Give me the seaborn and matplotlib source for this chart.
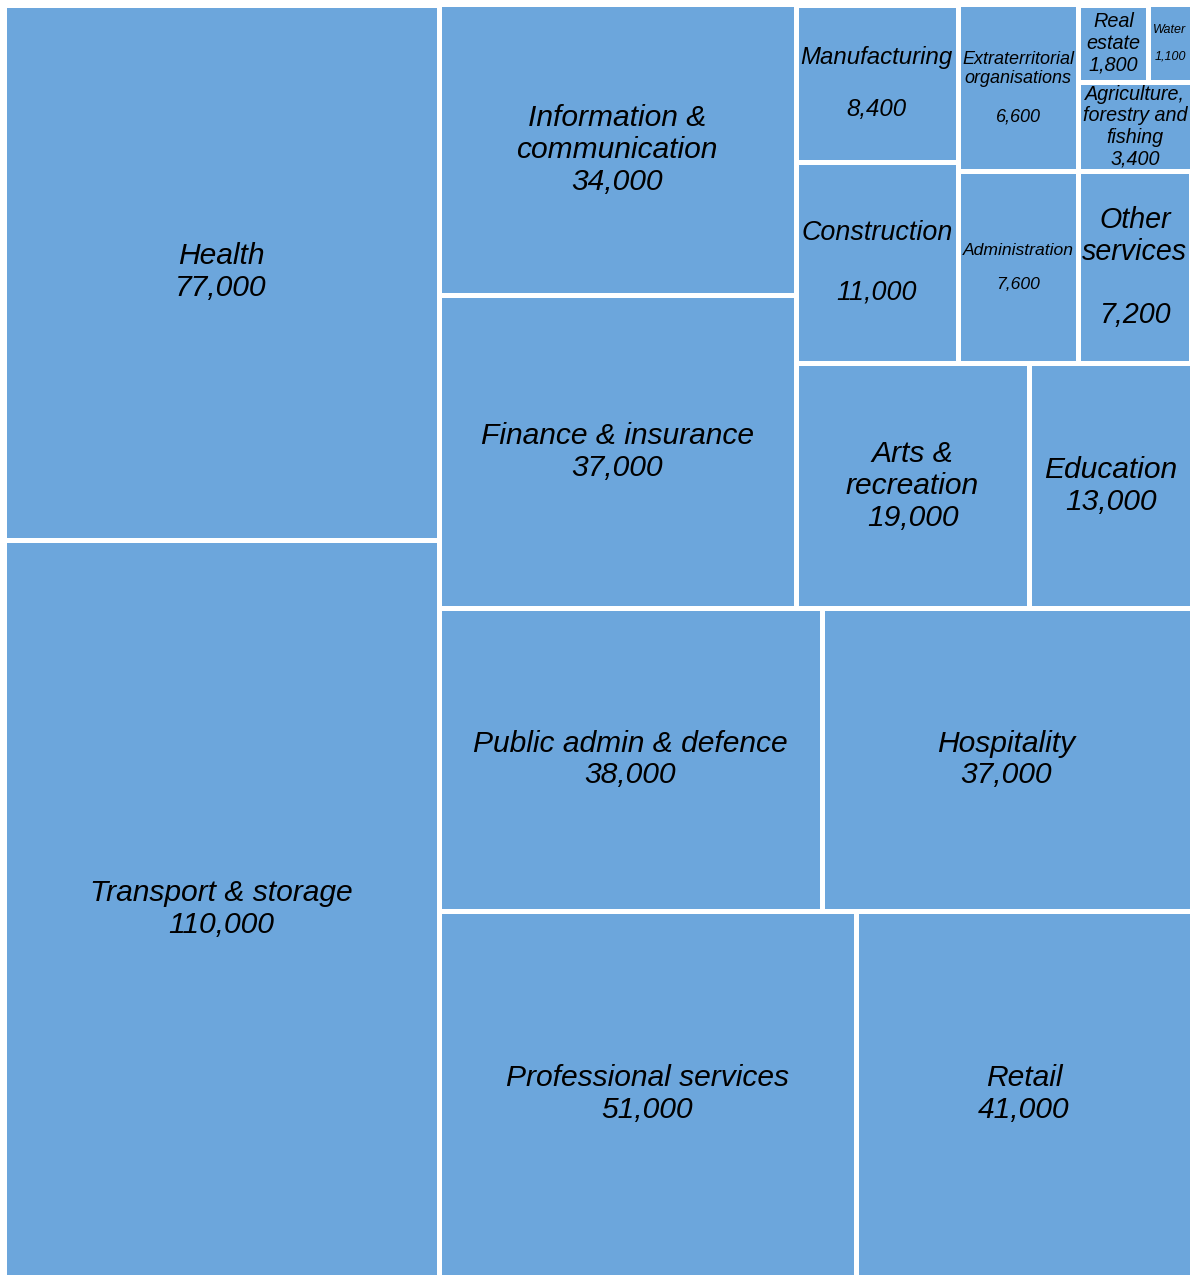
import matplotlib
matplotlib.use("Agg")
import matplotlib.pyplot as plt
from matplotlib.patches import Rectangle
import seaborn as sns

# employees by industry, in layout order (largest first).
# box areas give the value, labels show it rounded to 2 significant figures
industries = [
    "Transport & storage", "Health", "Professional services", "Retail",
    "Public admin & defence", "Hospitality", "Finance & insurance",
    "Information &\ncommunication", "Arts &\nrecreation", "Education",
    "Construction", "Manufacturing", "Administration", "Other\nservices",
    "Extraterritorial\norganisations", "Agriculture,\nforestry and\nfishing",
    "Real\nestate", "Water",
]
employees = [
    106000, 77000, 50600, 40600,
    38300, 37000, 36900,
    34300, 18900, 13100,
    10800, 8430, 7640, 7180,
    6640, 3360,
    1790, 1100,
]

# label styling per box
font_sizes = [21.6, 21.6, 21.6, 21.6, 21.6, 21.6, 21.6, 21.6, 21.6, 21.6,
              19.4, 17.3, 12.6, 20.6, 13, 14.2, 14.3, 9]
blank_lines = [1, 1, 1, 1, 1, 1, 1, 1, 1, 1, 2, 2, 2, 2, 2, 1, 1, 2]

BOX_COLOR = "#6ca6dc"


def two_sig(v):
    return f"{int(float(f'{v:.2g}')):,}"


# squarified treemap layout
def normalize(sizes, dx, dy):
    total = sum(sizes)
    return [s * dx * dy / total for s in sizes]


def layout_row(sizes, x, y, dx, dy):
    width = sum(sizes) / dy
    rects = []
    for s in sizes:
        rects.append((x, y, width, s / width))
        y += s / width
    return rects


def layout_col(sizes, x, y, dx, dy):
    height = sum(sizes) / dx
    rects = []
    for s in sizes:
        rects.append((x, y, s / height, height))
        x += s / height
    return rects


def layout(sizes, x, y, dx, dy):
    if dx >= dy:
        return layout_row(sizes, x, y, dx, dy)
    return layout_col(sizes, x, y, dx, dy)


def leftover(sizes, x, y, dx, dy):
    if dx >= dy:
        width = sum(sizes) / dy
        return x + width, y, dx - width, dy
    height = sum(sizes) / dx
    return x, y + height, dx, dy - height


def worst_ratio(sizes, x, y, dx, dy):
    return max(max(w / h, h / w) for (_, _, w, h) in layout(sizes, x, y, dx, dy))


def squarify(sizes, x, y, dx, dy):
    if len(sizes) == 0:
        return []
    if len(sizes) == 1:
        return layout(sizes, x, y, dx, dy)
    i = 1
    while i < len(sizes) and worst_ratio(sizes[:i], x, y, dx, dy) >= worst_ratio(sizes[:i + 1], x, y, dx, dy):
        i += 1
    cur, rest = sizes[:i], sizes[i:]
    lx, ly, ldx, ldy = leftover(cur, x, y, dx, dy)
    return layout(cur, x, y, dx, dy) + squarify(rest, lx, ly, ldx, ldy)


sns.set_theme(style="white")
plt.rcParams["font.family"] = ["Liberation Sans", "DejaVu Sans"]

fig = plt.figure(figsize=(11.9, 12.75), dpi=100)
ax = fig.add_axes([3.5 / 1190, -2.5 / 1275, 1188 / 1190, 1273 / 1275])

rects = squarify(normalize(employees, 100, 100), 0, 0, 100, 100)
for (x, y, w, h), name, val, fs, nb in zip(rects, industries, employees, font_sizes, blank_lines):
    ax.add_patch(Rectangle((x, y), w, h, facecolor=BOX_COLOR, edgecolor="white", linewidth=3.6))
    ax.text(x + w / 2, y + h / 2, name + "\n" * nb + two_sig(val),
            ha="center", va="center", fontsize=fs, style="italic",
            color="black", linespacing=1.17)

ax.set_xlim(0, 100)
ax.set_ylim(0, 100)
ax.set_axis_off()

fig.savefig("out.png", dpi=100, facecolor="white")
